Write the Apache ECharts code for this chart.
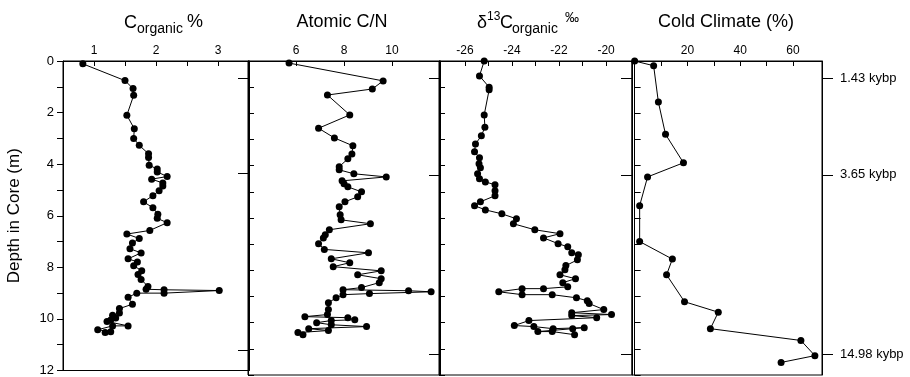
<!DOCTYPE html>
<html>
<head>
<meta charset="utf-8">
<script src="https://cdn.jsdelivr.net/npm/echarts@6/dist/echarts.min.js"></script>
<style>
  html, body {margin: 0; padding: 0; background: #fff;}
  #chart {width: 910px; height: 377px;}
</style>
</head>
<body>
<div id="chart"></div>
<script>
const corgDepth = [0.11, 0.76, 1.07, 1.33, 2.10, 2.63, 3.00, 3.27, 3.60, 3.74, 4.04, 4.19, 4.30, 4.48, 4.58, 4.73, 4.85, 5.03, 5.22, 5.46, 5.69, 5.94, 6.10, 6.27, 6.57, 6.71, 6.88, 7.06, 7.28, 7.44, 7.67, 7.79, 7.94, 8.13, 8.28, 8.47, 8.74, 8.85, 8.87, 8.90, 9.00, 9.00, 9.16, 9.43, 9.60, 9.77, 9.86, 9.96, 10.04, 10.10, 10.27, 10.27, 10.42, 10.50, 10.53];
const corgValue = [0.82, 1.50, 1.63, 1.64, 1.53, 1.65, 1.64, 1.73, 1.88, 1.88, 1.89, 2.02, 2.02, 2.18, 1.93, 2.11, 2.11, 2.05, 1.95, 1.80, 1.95, 2.03, 2.02, 2.18, 1.90, 1.53, 1.73, 1.62, 1.58, 1.76, 1.55, 1.70, 1.64, 1.77, 1.71, 1.76, 1.87, 1.84, 2.13, 3.02, 2.13, 1.69, 1.55, 1.62, 1.41, 1.41, 1.30, 1.35, 1.27, 1.21, 1.55, 1.30, 1.06, 1.27, 1.18];

const cnDepth = [0.08, 0.76, 1.07, 1.30, 2.06, 2.57, 2.94, 3.24, 3.55, 3.74, 4.04, 4.16, 4.31, 4.43, 4.58, 4.69, 4.81, 5.00, 5.19, 5.38, 5.57, 5.88, 6.07, 6.22, 6.45, 6.64, 6.76, 6.98, 7.20, 7.33, 7.56, 7.71, 7.86, 8.02, 8.17, 8.32, 8.47, 8.66, 8.74, 8.78, 8.82, 8.89, 8.93, 9.05, 9.24, 9.50, 9.69, 9.77, 9.81, 9.89, 9.92, 10.00, 10.08, 10.15, 10.23, 10.30, 10.38, 10.46];
const cnValue = [5.71, 9.63, 9.18, 7.31, 8.24, 6.94, 7.60, 8.37, 8.33, 8.16, 7.80, 7.80, 8.41, 9.76, 7.92, 8.00, 8.16, 8.73, 8.57, 8.04, 7.80, 7.84, 7.88, 9.10, 7.39, 7.22, 7.14, 6.94, 7.18, 9.02, 7.47, 8.24, 7.55, 9.55, 8.57, 9.55, 9.47, 8.73, 7.96, 10.69, 11.63, 9.06, 7.96, 7.67, 7.35, 7.35, 7.31, 6.37, 8.16, 8.45, 7.47, 6.86, 7.47, 8.94, 6.53, 7.35, 6.08, 6.29];

const d13cDepth = [0.00, 0.57, 1.00, 1.10, 2.06, 2.53, 2.86, 3.17, 3.47, 3.70, 3.93, 4.08, 4.31, 4.50, 4.62, 4.73, 4.96, 5.15, 5.38, 5.53, 5.69, 5.84, 6.03, 6.22, 6.45, 6.60, 6.76, 6.98, 7.10, 7.33, 7.40, 7.60, 7.82, 7.98, 8.17, 8.32, 8.47, 8.63, 8.70, 8.70, 8.82, 8.93, 8.93, 9.05, 9.16, 9.27, 9.50, 9.62, 9.69, 9.73, 9.81, 9.92, 10.11, 10.15, 10.23, 10.19, 10.23, 10.34, 10.34, 10.46];
const d13cValue = [-25.18, -25.38, -24.97, -24.97, -25.18, -25.15, -25.30, -25.55, -25.59, -25.38, -25.40, -25.34, -25.46, -25.38, -25.13, -24.72, -24.72, -24.72, -25.34, -25.59, -25.13, -24.43, -23.81, -23.94, -23.03, -21.96, -22.66, -22.04, -21.63, -21.46, -21.18, -21.22, -21.71, -21.75, -21.96, -21.30, -21.84, -21.63, -22.66, -23.57, -24.56, -23.57, -22.29, -21.26, -20.80, -20.72, -20.10, -21.46, -19.77, -21.46, -20.40, -23.28, -23.90, -23.07, -22.25, -20.93, -21.42, -22.90, -22.29, -21.34];

const coldDepth = [0.00, 0.18, 1.57, 2.80, 3.89, 4.43, 5.53, 6.90, 7.57, 8.17, 9.20, 9.60, 10.23, 10.68, 11.26, 11.52];
const coldValue = [0.0, 7.2, 9.0, 11.7, 18.5, 4.9, 1.9, 1.9, 14.3, 12.1, 18.9, 31.7, 28.7, 63.0, 68.3, 55.5];

const depthTicks = [0, 1, 2, 3, 4, 5, 6, 7, 8, 9, 10, 11, 12];
const kybpDepth = [0.65, 4.35, 11.2];
const kybpLabel = ['1.43 kybp', '3.65 kybp', '14.98 kybp'];

const panels = [
  {left: 63, width: 186, min: 0.5, max: 3.5, ticks: [1, 1.5, 2, 2.5, 3], labels: [1, 2, 3], depth: corgDepth, value: corgValue},
  {left: 248, width: 192, min: 4, max: 12, ticks: [6, 8, 10], labels: [6, 8, 10], depth: cnDepth, value: cnValue},
  {left: 439, width: 193, min: -27.1, max: -18.9, ticks: [-26, -25, -24, -23, -22, -21, -20], labels: [-26, -24, -22, -20], depth: d13cDepth, value: d13cValue},
  {left: 632, width: 190, min: -1, max: 71, ticks: [10, 20, 30, 40, 50, 60], labels: [20, 40, 60], depth: coldDepth, value: coldValue},
];

const FONT = 'Liberation Sans, Arial, Helvetica, sans-serif';
const TOP = 61, HEIGHT = 314;

const grid = [], xAxis = [], yAxis = [], series = [];
panels.forEach((p, i) => {
  grid.push({left: p.left, top: TOP, width: p.width, height: HEIGHT, show: true, borderColor: '#000', borderWidth: 1, backgroundColor: 'transparent'});
  xAxis.push({
    gridIndex: i, type: 'value', position: 'top', min: p.min, max: p.max,
    splitLine: {show: false},
    axisLine: {show: true, lineStyle: {color: '#000', width: 1}},
    axisTick: {show: true, inside: true, length: 5, customValues: p.ticks, lineStyle: {color: '#000'}},
    axisLabel: {show: true, customValues: p.labels, margin: 4, color: '#000', fontSize: 12, fontFamily: FONT},
  });
  // left depth axis
  yAxis.push({
    gridIndex: i, type: 'value', position: 'left', min: 0, max: 12, inverse: true,
    splitLine: {show: false},
    axisLine: {show: true, lineStyle: {color: '#000', width: 1}},
    axisTick: {show: true, inside: i > 0, length: 6, customValues: depthTicks, lineStyle: {color: '#000'}},
    axisLabel: {show: i === 0, customValues: [0, 2, 4, 6, 8, 10, 12], margin: 9, color: '#000', fontSize: 13, fontFamily: FONT},
    name: i === 0 ? 'Depth in Core (m)' : '',
    nameLocation: 'middle', nameRotate: 90, nameGap: 40,
    nameTextStyle: {color: '#000', fontSize: 17, fontFamily: FONT},
  });
  // right axis carrying the dates
  const last = i === panels.length - 1;
  yAxis.push({
    gridIndex: i, type: 'value', position: 'right', min: 0, max: 12, inverse: true,
    splitLine: {show: false},
    axisLine: {show: true, lineStyle: {color: '#000', width: 1}},
    axisTick: {show: true, inside: !last, length: 11, customValues: kybpDepth, lineStyle: {color: '#000'}},
    axisLabel: {
      show: last, customValues: kybpDepth, margin: 18, color: '#000', fontSize: 13, fontFamily: FONT,
      formatter: v => kybpLabel[kybpDepth.indexOf(v)] || '',
    },
  });
  series.push({
    type: 'line', xAxisIndex: i, yAxisIndex: i * 2,
    data: p.depth.map((d, k) => [p.value[k], d]),
    symbol: 'circle', symbolSize: 7, clip: false,
    itemStyle: {color: '#000'},
    lineStyle: {color: '#000', width: 1},
    animation: false,
  });
});

const txt = (x, y, text, size, align) => ({
  type: 'text', x: x, y: y,
  style: {text: text, fill: '#000', font: size + 'px ' + FONT, textAlign: align || 'left', textVerticalAlign: 'middle'},
});

const chart = echarts.init(document.getElementById('chart'));
chart.setOption({
  animation: false,
  grid: grid, xAxis: xAxis, yAxis: yAxis, series: series,
  graphic: [
    txt(124, 23, 'C', 18), txt(137, 29, 'organic', 14), txt(187, 22, '%', 18),
    txt(342, 22, 'Atomic C/N', 18, 'center'),
    txt(477, 23, 'δ', 18), txt(487, 17, '13', 12), txt(500, 23, 'C', 18), txt(512, 29, 'organic', 14), txt(565, 18, '‰', 14),
    txt(726, 22, 'Cold Climate (%)', 18, 'center'),
  ],
});
</script>
</body>
</html>
